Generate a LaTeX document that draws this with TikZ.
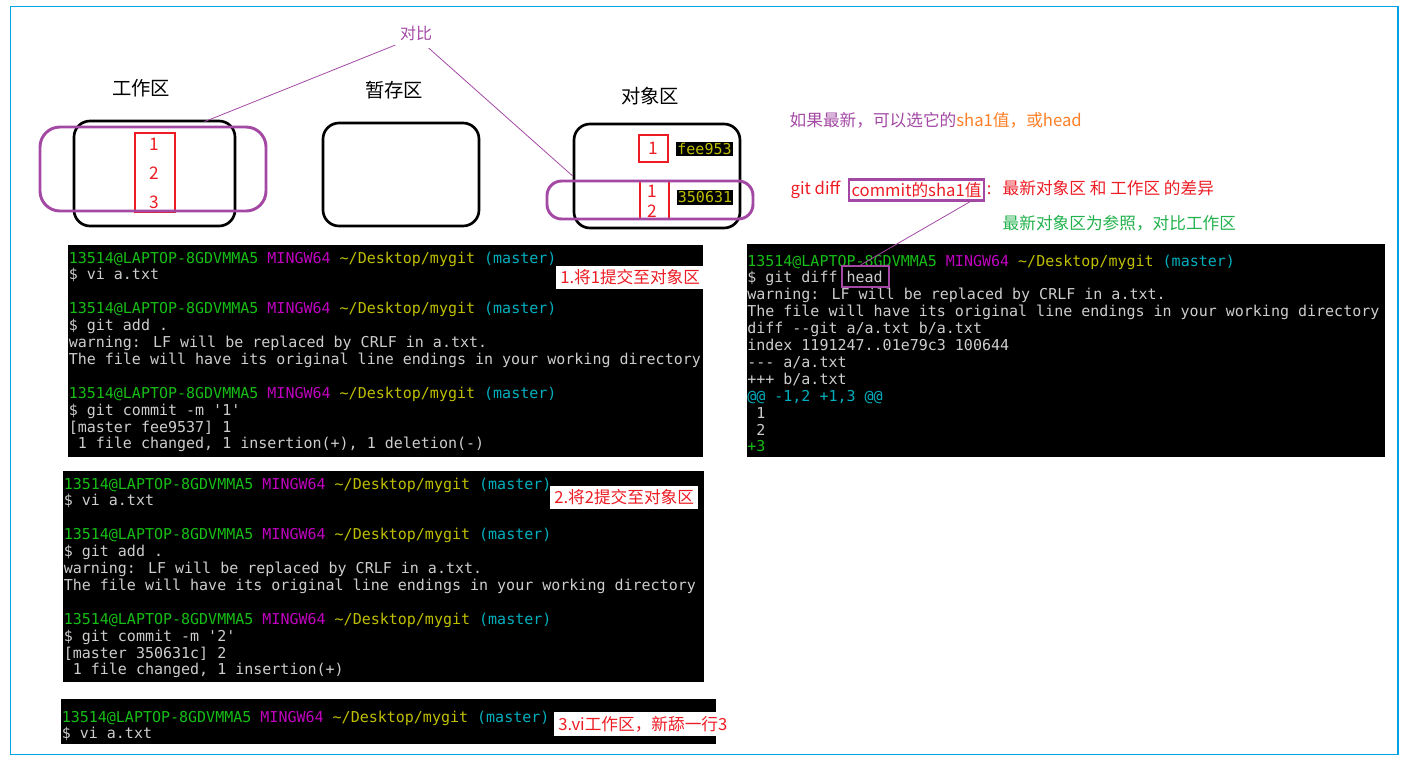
\documentclass[tikz,border=0pt]{standalone}
\usepackage{fontspec}
\setmainfont{Noto Sans CJK SC}
\newfontfamily\termfont{DejaVu Sans Mono}
\usetikzlibrary{positioning,calc}

\definecolor{paintpurple}{RGB}{163,73,164}
\definecolor{paintred}{RGB}{237,28,36}
\definecolor{paintgreen}{RGB}{34,177,76}
\definecolor{paintorange}{RGB}{255,127,39}
\definecolor{framecyan}{RGB}{0,162,232}
\definecolor{tgreen}{RGB}{22,190,22}
\definecolor{tmagenta}{RGB}{191,0,191}
\definecolor{tyellow}{RGB}{191,191,0}
\definecolor{tcyan}{RGB}{0,175,190}
\definecolor{tfg}{RGB}{205,205,205}

\newcommand{\prompt}{\textcolor{tgreen}{13514@LAPTOP-8GDVMMA5} \textcolor{tmagenta}{MINGW64} \textcolor{tyellow}{\textasciitilde/Desktop/mygit} \textcolor{tcyan}{(master)}}
% one line every 16.9px, first baseline at #3
\newcommand{\termblock}[4]{\foreach \tline [count=\i from 0] in {#4} \node[termline] (#1-\i) at (#2,#3+16.9*\i) {\tline};}

\tikzset{
  boxsize/.style 2 args={minimum width=#1*0.75pt,minimum height=#2*0.75pt},
  areabox/.style={draw,line width=2pt,rounded corners=12pt,inner sep=0pt},
  ringbox/.style={draw=paintpurple,line width=2.2pt,rounded corners=#1,inner sep=0pt},
  redbox/.style={draw=paintred,line width=0.8pt,inner sep=0pt,text=paintred,font=\fontsize{13}{15}\selectfont},
  rednum/.style={text=paintred,font=\fontsize{13}{15}\selectfont,inner sep=0pt},
  arealabel/.style={font=\fontsize{14.5}{17}\selectfont},
  termline/.style={anchor=base west,inner sep=0pt,text=tfg,font=\termfont\fontsize{11.25}{13}\selectfont},
  hashtag/.style={fill=black,text=tyellow,inner sep=1pt,font=\termfont\fontsize{11.25}{13}\selectfont},
  steplabel/.style={anchor=west,fill=white,text=paintred,inner xsep=3pt,inner ysep=3pt,font=\fontsize{12.5}{15}\selectfont},
  note/.style={anchor=west,font=\fontsize{12.5}{15}\selectfont}
}

\begin{document}
\begin{tikzpicture}[x=0.75pt,y=-0.75pt]
\useasboundingbox (0,0) rectangle (1409,761);
\draw[framecyan,line width=1.2pt] (10.5,6.5) rectangle (1398,754.5);

% three areas
\node[arealabel] (worklabel) at (141,88) {工作区};
\node[arealabel] (stagelabel) at (394,90) {暂存区};
\node[arealabel] (objlabel) at (650,96) {对象区};
\node[areabox,boxsize={161}{105}] (work) at (154.5,173.5) {};
\node[areabox,boxsize={156}{103}] (stage) at (401,174.5) {};
\node[areabox,boxsize={166}{104}] (obj) at (657,176) {};

\node[redbox,boxsize={40}{79}] (workfile) at (155,172.5) {};
\node[rednum] (w1) at (154,144) {1};
\node[rednum] (w2) at (154,173) {2};
\node[rednum] (w3) at (154,202) {3};

\node[redbox,boxsize={29}{27}] (objfile1) at (653.5,148.5) {1};
\node[hashtag] (hash1) at (704.5,149) {fee953};
\node[redbox,boxsize={29}{38}] (objfile2) at (654.5,200) {};
\node[rednum] (o1) at (652,191) {1};
\node[rednum] (o2) at (652,211) {2};
\node[hashtag] (hash2) at (705,197.5) {350631};

\node[ringbox=15pt,boxsize={226}{84}] (workring) at (153,169) {};
\node[ringbox=11pt,boxsize={206}{38}] (objring) at (650,200) {};

\node[text=paintpurple,font=\fontsize{12}{14}\selectfont] (duibi) at (416,33) {对比};
\draw[paintpurple,line width=0.6pt] (duibi.south west) -- ($(work.north)+(50,2)$);
\draw[paintpurple,line width=0.6pt] ($(duibi.south east)+(-8,3)$) -- (obj.west);

% notes on the right
\node[note] (latest) at (785,120) {\textcolor{paintpurple}{如果最新，可以选它的}\textcolor{paintorange}{sha1值，或head}};
\node[note,text=paintred] (gitdiff) at (786,190) {git diff};
\node[draw=paintpurple,line width=1.8pt,inner xsep=2pt,inner ysep=2pt,text=paintred,font=\fontsize{12.5}{15}\selectfont,right=2pt of gitdiff] (sha) {commit的sha1值};
\node[text=paintred,inner sep=1pt,font=\fontsize{12.5}{15}\selectfont,right=0pt of sha] (colon) {:};
\node[note,text=paintred] (diffnote) at (998,188) {最新对象区 和 工作区 的差异};
\node[note,text=paintgreen] (refnote) at (998,223) {最新对象区为参照，对比工作区};

% terminals
\fill (68,245) rectangle (703,457);
\termblock{tA}{68.5}{263}{{\prompt},{\$ vi a.txt},{},{\prompt},{\$ git add .},{warning: LF will be replaced by CRLF in a.txt.},{The file will have its original line endings in your working directory},{},{\prompt},{\$ git commit -m \textquotesingle1\textquotesingle},{[master fee9537] 1},{\ 1 file changed, 1 insertion(+), 1 deletion(-)}}
\node[steplabel] (step1) at (556,277.5) {1.将1提交至对象区};

\fill (63,471) rectangle (704,682);
\termblock{tB}{63.5}{489}{{\prompt},{\$ vi a.txt},{},{\prompt},{\$ git add .},{warning: LF will be replaced by CRLF in a.txt.},{The file will have its original line endings in your working directory},{},{\prompt},{\$ git commit -m \textquotesingle2\textquotesingle},{[master 350631c] 2},{\ 1 file changed, 1 insertion(+)}}
\node[steplabel] (step2) at (550,497.5) {2.将2提交至对象区};

\fill (61,699) rectangle (716,744);
\termblock{tC}{61.5}{722}{{\prompt},{\$ vi a.txt}}
\node[steplabel] (step3) at (554,724) {3.vi工作区，新舔一行3};

\fill (747,244) rectangle (1385,457);
\termblock{tD}{747}{266}{{\prompt},{\$ git diff head},{warning: LF will be replaced by CRLF in a.txt.},{The file will have its original line endings in your working directory},{diff -{}-git a/a.txt b/a.txt},{index 1191247..01e79c3 100644},{-{}-{}- a/a.txt},{+++ b/a.txt},{\textcolor{tcyan}{@@ -1,2 +1,3 @@}},{\ 1},{\ 2},{\textcolor{tgreen}{+3}}}
\node[draw=paintpurple,line width=1.5pt,inner sep=0pt,boxsize={47}{21}] (headbox) at (865.5,276.5) {};
\draw[paintpurple,line width=0.6pt] ($(sha.south east)+(-15,0)$) -- ($(headbox.north)+(-5,0)$);
\end{tikzpicture}
\end{document}
